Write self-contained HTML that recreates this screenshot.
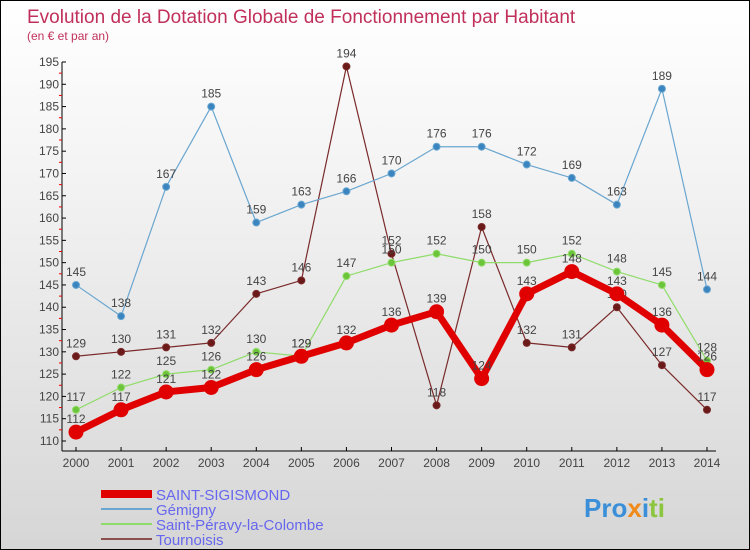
<!DOCTYPE html>
<html><head><meta charset="utf-8"><style>
body{margin:0}
#c{width:750px;height:550px;position:relative;background:linear-gradient(#fff 0%,#f4f4f4 30%,#d6d6d6 100%);box-sizing:border-box;border:1px solid #000;font-family:"Liberation Sans",sans-serif;overflow:hidden}
svg{position:absolute;left:0;top:0}
</style></head><body>
<div id="c">
<svg id="s" width="750" height="550">
<text x="26" y="22" font-size="19" fill="#c0305a">Evolution de la Dotation Globale de Fonctionnement par Habitant</text>
<text x="26" y="39" font-size="12" fill="#c0305a">(en € et par an)</text>
<g id="axes"></g><g id="series"></g>
<g>
<rect x="100" y="489" width="51" height="8" fill="#e00000"/>
<text x="155" y="499" font-size="15" fill="#6666ee">SAINT-SIGISMOND</text>
<line x1="100" y1="508" x2="151" y2="508" stroke="#6aa6cf" stroke-width="2"/>
<text x="155" y="514" font-size="15" fill="#6666ee">Gémigny</text>
<line x1="100" y1="523" x2="151" y2="523" stroke="#90dc6a" stroke-width="2"/>
<text x="155" y="529" font-size="15" fill="#6666ee">Saint-Péravy-la-Colombe</text>
<line x1="100" y1="538" x2="151" y2="538" stroke="#8a5050" stroke-width="2"/>
<text x="155" y="544" font-size="15" fill="#6666ee">Tournoisis</text>
</g>
<text x="583" y="516" font-size="26" font-weight="bold"><tspan fill="#3a8fd8">Pro</tspan><tspan fill="#f08a1a">x</tspan><tspan fill="#3a8fd8">i</tspan><tspan fill="#8cc63f">ti</tspan></text>
</svg>
</div>
<script>
const years=[2000,2001,2002,2003,2004,2005,2006,2007,2008,2009,2010,2011,2012,2013,2014];
const yTicks=[110,115,120,125,130,135,140,145,150,155,160,165,170,175,180,185,190,195];
const saintSigismond=[112,117,121,122,126,129,132,136,139,124,143,148,143,136,126];
const gemigny=[145,138,167,185,159,163,166,170,176,176,172,169,163,189,144];
const saintPeravy=[117,122,125,126,130,129,147,150,152,150,150,152,148,145,128];
const tournoisis=[129,130,131,132,143,146,194,152,118,158,132,131,140,127,117];
const NS="http://www.w3.org/2000/svg";
const X=i=>75+i*(706-75)/(years.length-1);
const Y=v=>440-(v-110)*(440-61)/85;
function mk(tag,attrs,parent){const e=document.createElementNS(NS,tag);for(const k in attrs)e.setAttribute(k,attrs[k]);parent.appendChild(e);return e;}
const ax=document.getElementById('axes');
let a=mk('line',{x1:61,y1:Y(195),x2:61,y2:450,stroke:'#000'},ax);


a=mk('line',{x1:61,y1:450,x2:715,y2:450,stroke:'#000'},ax);


yTicks.forEach(v=>{
 mk('line',{x1:61,y1:Y(v),x2:65,y2:Y(v),stroke:'#000'},ax);
 if(v<195)mk('line',{x1:58,y1:Y(v+2.5),x2:61,y2:Y(v+2.5),stroke:'#e00'},ax);
 const t=mk('text',{x:58,y:Y(v)+4,'font-size':12,fill:'#444','text-anchor':'end'},ax);t.textContent=v;
 
 
});
years.forEach((y,i)=>{
 mk('line',{x1:X(i),y1:446,x2:X(i),y2:450,stroke:'#000'},ax);
 const t=mk('text',{x:X(i),y:466,'font-size':12,fill:'#444','text-anchor':'middle'},ax);t.textContent=y;
 
 
});
const sg=document.getElementById('series');
function draw(data,name,color,w,r,dot){
 const g=mk('g',{},sg);
 
 
 mk('polyline',{points:data.map((v,i)=>X(i)+','+Y(v)).join(' '),fill:'none',stroke:color,'stroke-width':w,'stroke-linejoin':'round'},g);
 data.forEach((v,i)=>{
  const c=mk('circle',{cx:X(i),cy:Y(v),r:r,fill:dot,stroke:color,'stroke-width':1},g);
  
  
  const t=mk('text',{x:X(i),y:Y(v)-9,'font-size':12,fill:'#444','text-anchor':'middle'},g);t.textContent=v;
  
  
 });
}
draw(tournoisis,'tournoisis','#7a2a2a',1.2,3.5,'#6b1a1a');
draw(gemigny,'gemigny','#6aa6cf',1.2,3.5,'#3a85c0');
draw(saintPeravy,'saint-peravy','#90dc6a',1.2,3.5,'#6cc43a');
draw(saintSigismond,'saint-sigismond','#e00000',7,7,'#e00000');
</script>
</body></html>
